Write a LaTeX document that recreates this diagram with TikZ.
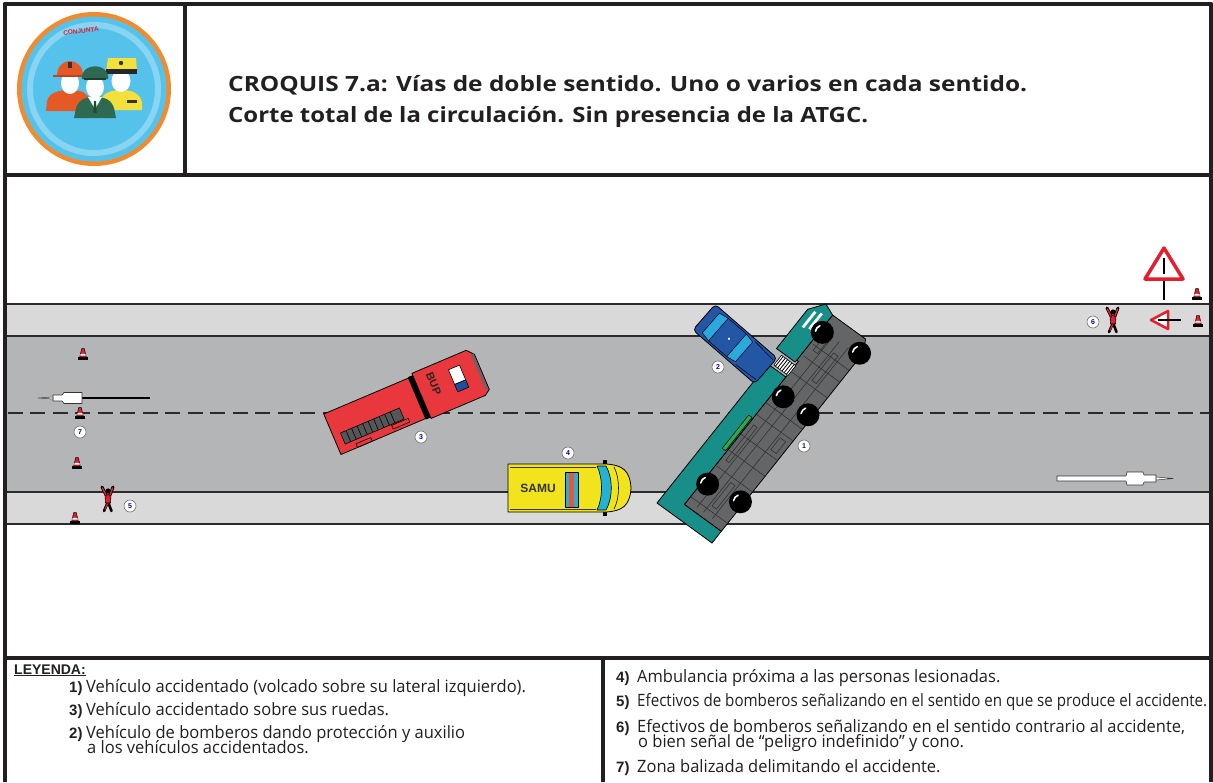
\documentclass[tikz,border=0pt]{standalone}
\usepackage{fontspec}
\usepackage{graphicx}
\setmainfont{Open Sans}
\newfontfamily\legfont[FakeStretch=0.97]{Open Sans}
\newfontfamily\armfont{Liberation Sans}
\usetikzlibrary{calc}

\definecolor{ink}{HTML}{231F20}
\definecolor{shoulder}{HTML}{D9D9D9}
\definecolor{lane}{HTML}{B3B5B7}
\definecolor{roadline}{HTML}{2B2B2B}
\definecolor{truckteal}{HTML}{178E87}
\definecolor{undergrey}{HTML}{636567}
\definecolor{firered}{HTML}{E8383D}
\definecolor{bupblue}{HTML}{1F4E9E}
\definecolor{carblue}{HTML}{2456A6}
\definecolor{carcyan}{HTML}{2AA9DE}
\definecolor{samuyellow}{HTML}{F2E41C}
\definecolor{samucyan}{HTML}{22B1D7}
\definecolor{samured}{HTML}{E8553A}
\definecolor{conered}{HTML}{E31E2D}
\definecolor{greenbar}{HTML}{2FA84F}
\definecolor{logoorange}{HTML}{F28A2E}
\definecolor{logoblue}{HTML}{55C2EC}
\definecolor{fireorange}{HTML}{E55A24}
\definecolor{militgreen}{HTML}{2E6A52}
\definecolor{guardyellow}{HTML}{F3E03A}

% scale a line of text horizontally to a given width (in pt)
\newcommand\fitline[2]{\setbox0=\hbox{#2}\pgfmathsetmacro\fitratio{#1/\the\wd0}\scalebox{\fitratio}[1]{\box0}}
% quadrilateral from two corners, following the current (possibly skewed) axes
\newcommand\quadbox[4]{(#1,#2) -- (#3,#2) -- (#3,#4) -- (#1,#4) -- cycle}

\tikzset{
  cone/.pic={
    \filldraw[fill=black, draw=black] (-4.5,3) rectangle (4.5,5.5);
    \filldraw[fill=conered, draw=black, line width=0.5pt] (-3.2,3) -- (-1.3,-5.5) -- (1.3,-5.5) -- (3.2,3) -- cycle;
    \fill[white] (-2.4,-0.2) -- (2.4,-0.2) -- (2.8,1.6) -- (-2.8,1.6) -- cycle;
  },
  bombero/.pic={
    \draw[black, line width=2.6pt, line cap=round] (0,3) -- (-4,12);
    \draw[black, line width=2.6pt, line cap=round] (0,3) -- (3.5,12);
    \draw[conered, line width=1.2pt] (0,4) -- (-3.2,10.5);
    \filldraw[fill=conered, draw=black, line width=0.6pt] (-3,-5) -- (3,-5) -- (2.5,4) -- (-2.5,4) -- cycle;
    \draw[black, line width=3pt, line cap=round] (-2,-4) -- (-6,-12);
    \draw[black, line width=3pt, line cap=round] (2,-4) -- (5,-12);
    \draw[conered, line width=1.5pt, line cap=round] (-2,-4) -- (-5.6,-11);
    \draw[conered, line width=1.5pt, line cap=round] (2,-4) -- (4.6,-11);
    \fill[black] (0,-8) circle (2.6);
  },
  numtag/.style={circle, draw=black!55, fill=white, line width=0.6pt, inner sep=0pt,
    minimum size=12pt, font=\armfont\bfseries\fontsize{7}{7}\selectfont, text=blue!65!black},
  legtext/.style={anchor=base west, inner sep=0pt, font=\legfont\fontsize{17}{19}\selectfont, text=ink},
  legnum/.style={anchor=base west, inner sep=0pt, font=\armfont\bfseries\fontsize{15}{17}\selectfont, text=ink},
  titletext/.style={anchor=base west, inner sep=0pt, font=\bfseries\fontsize{21}{24}\selectfont, text=ink},
  wheel/.style={fill=black},
  frame/.style={line width=4pt, draw=ink},
  detail/.style={draw=black!80, line width=0.6pt},
}

\begin{document}
\begin{tikzpicture}[x=1pt, y=-1pt, line join=round]
\useasboundingbox (0,0) rectangle (1213,782);
\fill[white] (0,0) rectangle (1213,782);

% ---------------- road ----------------
\fill[shoulder] (5,304) rectangle (1211,524);
\fill[lane] (5,336) rectangle (1211,492);
\foreach \y in {304,336,492,524}
  \draw[roadline, line width=1.8pt] (5,\y) -- (1211,\y);
\draw[roadline, line width=2pt, dash pattern=on 15pt off 7.5pt] (7.5,413) -- (1211,413);

% direction arrows
\draw[black, line width=2pt] (150,398) -- (82,398);
\filldraw[fill=white, draw=black!80, line width=0.6pt]
  (82,392.5) -- (82,403.5) -- (64,403.5) -- (62,401) -- (53,401) -- (53,395) -- (62,395) -- (64,392.5) -- cycle;
\filldraw[fill=white, draw=black!80, line width=0.5pt] (53,397) -- (38,398) -- (53,399) -- cycle;

\filldraw[fill=white, draw=black!80, line width=0.6pt]
  (1057,476) -- (1126,476) -- (1127,472) -- (1143,472) -- (1144,475) -- (1156,475) -- (1156,482)
  -- (1144,482) -- (1143,485) -- (1127,485) -- (1126,481) -- (1057,481) -- cycle;
\filldraw[fill=white, draw=black!80, line width=0.5pt] (1156,477) -- (1173,478.5) -- (1156,480) -- cycle;

% ---------------- fire engine (3) ----------------
\begin{scope}[shift={(406,403)}, rotate=23]
  \filldraw[fill=firered, draw=black, line width=0.8pt] (-80,-22) rectangle (12,22);
  \filldraw[fill=undergrey!85!black, draw=black, line width=0.6pt] (-72,2) rectangle (-8,14);
  \foreach \x in {-66,-60,...,-14} \draw[black, line width=0.6pt] (\x,2) -- (\x,14);
  \draw[black, line width=0.6pt] (-62,22) rectangle (-46,18) (-22,15) rectangle (-4,19);
  \fill[black] (12,-23) rectangle (17,23);
  \filldraw[fill=firered, draw=black, line width=0.8pt]
    (17,-25) -- (76,-25) -- (82,-18) -- (82,20) -- (76,24) -- (17,24) -- cycle;
  \draw[undergrey, line width=2.5pt] (80,-19) -- (80,19);
  \filldraw[fill=white, draw=black, line width=0.6pt] (52,-14) rectangle (64,2);
  \filldraw[fill=bupblue, draw=black, line width=0.6pt] (52,2) rectangle (64,10);
  \node[transform shape, rotate=-90, font=\armfont\bfseries\fontsize{11}{11}\selectfont, text=black!85, inner sep=0pt] (bup) at (33,-7) {BUP};
\end{scope}

% ---------------- ambulance (4) ----------------
\fill[black] (603,460) rectangle (607,464);
\fill[black] (603,512) rectangle (607,516);
\filldraw[fill=samuyellow, draw=black, line width=0.8pt]
  (508,464) -- (606,464) .. controls (622,465) and (630,470) .. (631,488)
  .. controls (630,506) and (622,511) .. (606,512) -- (508,512) -- cycle;
\draw[black!80, line width=0.5pt] (510,467) -- (596,467) (510,509) -- (596,509);
\filldraw[fill=samucyan, draw=black, line width=0.6pt]
  (597,466) .. controls (603,478) and (603,498) .. (597,510) -- (606,510)
  .. controls (613,498) and (613,478) .. (606,466) -- cycle;
\draw[black, line width=0.6pt] (614,467) .. controls (620,478) and (620,498) .. (614,509);
\filldraw[fill=samucyan, draw=black, line width=0.6pt] (565,472) rectangle (578,507);
\fill[samured] (569,472.5) rectangle (574,506.5);
\node[font=\armfont\bfseries\fontsize{12}{12}\selectfont, text=black!80, inner sep=0pt] (samu) at (538,488) {SAMU};

% ---------------- overturned lorry (1) ----------------
% axes: u across the lorry (roof side 0 -> underside 1), v along it (rear 0 -> cab 1)
\begin{scope}[shift={(657,503)}, x={(55pt,-40pt)}, y={(156pt,196pt)}]
  \filldraw[fill=truckteal, draw=black, line width=0.8pt]
    (0,0) -- (1,0) -- (1,0.06) -- (0.33,0.06) -- (0.33,0.71) -- (0,0.71) -- cycle;
  \filldraw[fill=undergrey, draw=black, line width=0.8pt]
    (0.33,0.06) -- (1,0.06) -- (1,0.97) -- (0.9,1.02) -- (0.3,1.02) -- (0.3,0.79) -- (0.33,0.79) -- cycle;
  \filldraw[fill=truckteal, draw=black, line width=0.8pt]
    (-0.04,0.78) -- (0.3,0.78) -- (0.3,1.02) -- (0.12,1.04) -- (-0.04,0.98) -- cycle;
  \filldraw[fill=white, draw=black, line width=0.6pt] \quadbox{0.08}{0.72}{0.34}{0.77};
  \foreach \u in {0.11,0.15,...,0.33} \draw[black, line width=0.8pt] (\u,0.72) -- (\u,0.77);
  % chassis detail
  \foreach \u in {0.5,0.62,0.78} \draw[detail] (\u,0.08) -- (\u,0.95);
  \foreach \v in {0.1,0.26,0.34,0.42,0.52,0.58,0.74,0.82,0.88} \draw[detail] (0.34,\v) -- (1,\v);
  \draw[detail] \quadbox{0.4}{0.3}{0.46}{0.48};
  \draw[detail] \quadbox{0.66}{0.76}{0.74}{0.9};
  \draw[detail] \quadbox{0.82}{0.44}{0.92}{0.5};
  \draw[detail] \quadbox{0.4}{0.86}{0.48}{0.92};
  \draw[detail] \quadbox{0.66}{0.12}{0.74}{0.24};
  \filldraw[fill=greenbar, draw=black, line width=0.5pt] \quadbox{0.25}{0.33}{0.31}{0.5};
  \fill[white] \quadbox{0.05}{0.91}{0.09}{0.99};
  \fill[white] \quadbox{0.14}{0.92}{0.18}{1.0};
  \foreach \u/\v in {0.41/0.18, 0.95/0.2, 0.48/0.64, 0.93/0.64, 0.34/0.94, 0.96/0.96} {
    \fill[wheel] (\u,\v) circle (11.5pt);
    \draw[white, line width=1.6pt, line cap=round] (\u,\v) ++(110:7pt) arc (110:170:7pt);
  }
\end{scope}

% ---------------- car (2) ----------------
\begin{scope}[shift={(735,344)}, rotate=-41]
  \filldraw[fill=carblue, draw=black, line width=0.8pt, rounded corners=4pt] (-41,-17) rectangle (41,17);
  \filldraw[fill=carcyan, draw=black, line width=0.5pt] (-32,-13) -- (-22,-15) -- (-22,15) -- (-32,13) -- cycle;
  \filldraw[fill=carcyan, draw=black, line width=0.5pt] (2,-15) -- (12,-13) -- (12,13) -- (2,15) -- cycle;
  \draw[black, line width=0.5pt] (-22,-15) -- (2,-15) (-22,15) -- (2,15) (14,-15) -- (39,-13) (14,15) -- (39,13);
  \fill[white] (-8,0) circle (1.2pt);
\end{scope}

% ---------------- cones ----------------
\pic (cn1) at (83,354) {cone};
\pic (cn2) at (80,413) {cone};
\pic (cn3) at (77,463) {cone};
\pic (cn4) at (75,518) {cone};
\pic (cn5) at (1197,294) {cone};
\pic (cn6) at (1198,321) {cone};

% ---------------- firefighters ----------------
\pic (bm1) at (108,499) {bombero};
\pic (bm2) at (1113,320) {bombero};

% ---------------- warning triangles ----------------
\draw[black, line width=2.5pt] (1164,258) -- (1164,300);
\filldraw[fill=white, draw=conered, line width=3.5pt] (1164,248) -- (1183,279) -- (1145,279) -- cycle;
\draw[black, line width=2.5pt] (1164,258) -- (1164,274);
\filldraw[fill=white, draw=conered, line width=2.5pt] (1151,320) -- (1168,311) -- (1168,329) -- cycle;
\draw[black, line width=2pt] (1158,320) -- (1181,320);

% ---------------- number tags ----------------
\node[numtag] (m1) at (804,446) {1};
\node[numtag] (m2) at (718,367) {2};
\node[numtag] (m3) at (421,437) {3};
\node[numtag] (m4) at (568,453) {4};
\node[numtag] (m5) at (130,506) {5};
\node[numtag] (m6) at (1093,322) {6};
\node[numtag] (m7) at (80,432) {7};

% ---------------- logo ----------------
\fill[logoorange] (94,89) circle (77);
\fill[logoblue] (94,89) circle (72.5);
\draw[white, opacity=0.3, line width=6pt] (94,89) circle (64);
% fire-fighter
\fill[fireorange] (46,111) -- (47,101) .. controls (49,93) and (58,90) .. (70,90) .. controls (82,90) and (88,93) .. (90,101) -- (90,111) -- cycle;
\fill[white] (70,83) ellipse [x radius=9, y radius=11];
\fill[fireorange] (57,76) .. controls (57,56) and (83,56) .. (83,76) -- cycle;
\draw[fireorange!80!black, line width=2pt] (53,76) -- (87,76);
\fill[black!80] (68,62) rectangle (72,68);
% guard
\fill[guardyellow] (100,110) -- (101,100) .. controls (104,92) and (112,90) .. (122,90) .. controls (133,90) and (140,94) .. (142,102) -- (142,110) -- cycle;
\fill[black!80] (127,100) rectangle (137,103);
\fill[white] (121,81) ellipse [x radius=9.5, y radius=11];
\fill[guardyellow] (106,71) -- (108,58) -- (136,58) -- (137,71) -- cycle;
\fill[black!85] (106,69) rectangle (137,74);
\fill[black!80] (121,63) circle (2.2);
% soldier
\fill[militgreen] (74,118) -- (76,108) .. controls (79,99) and (86,97) .. (95,97) .. controls (104,97) and (111,99) .. (114,108) -- (116,118) -- cycle;
\fill[white] (88,97) -- (95,109) -- (102,97) -- cycle;
\fill[militgreen!70!black] (94,101) -- (96,101) -- (96.8,113) -- (93.2,113) -- cycle;
\fill[white] (95,87) ellipse [x radius=9, y radius=11];
\fill[militgreen] (82,79) .. controls (80,62) and (110,62) .. (108,79) -- cycle;
\draw[militgreen!60!black, line width=2pt] (84,79) -- (106,79);
\node[font=\armfont\bfseries\fontsize{6.5}{6.5}\selectfont, text=conered, rotate=6, inner sep=0pt] (logotxt) at (81,31) {CONJUNTA};

% ---------------- frame ----------------
\draw[frame] (4.7,782) -- (4.7,3.5) -- (1211.3,3.5) -- (1211.3,782);
\draw[frame] (4.7,174.5) -- (1211.3,174.5);
\draw[frame] (185,3.5) -- (185,174.5);
\draw[frame] (4.7,658) -- (1211.3,658);
\draw[frame] (603,658) -- (603,782);

% ---------------- title ----------------
\node[titletext] (title1) at (228,91) {\fitline{799}{CROQUIS 7.a: Vías de doble sentido. Uno o varios en cada sentido.}};
\node[titletext] (title2) at (228,122) {\fitline{640}{Corte total de la circulación. Sin presencia de la ATGC.}};

% ---------------- legend ----------------
\node[anchor=base west, inner sep=0pt, font=\armfont\bfseries\fontsize{14}{16}\selectfont, text=ink] (ley) at (14,674) {\underline{LEYENDA:}};
\node[legnum] (n1) at (69,692) {1)};
\node[legtext] (l1) at (86,692) {Vehículo accidentado (volcado sobre su lateral izquierdo).};
\node[legnum] (n3) at (69,715) {3)};
\node[legtext] (l3) at (86,715) {Vehículo accidentado sobre sus ruedas.};
\node[legnum] (n2) at (69,738) {2)};
\node[legtext] (l2) at (86,738) {Vehículo de bomberos dando protección y auxilio};
\node[legtext] (l2b) at (87,753) {a los vehículos accidentados.};

\node[legnum] (n4) at (616,682) {4)};
\node[legtext] (l4) at (637,682) {Ambulancia próxima a las personas lesionadas.};
\node[legnum] (n5) at (616,706) {5)};
\node[legtext] (l5) at (637,706) {\fitline{570}{Efectivos de bomberos señalizando en el sentido en que se produce el accidente.}};
\node[legnum] (n6) at (616,732) {6)};
\node[legtext] (l6) at (637,732) {Efectivos de bomberos señalizando en el sentido contrario al accidente,};
\node[legtext] (l6b) at (638,747) {o bien señal de “peligro indefinido” y cono.};
\node[legnum] (n7) at (616,772) {7)};
\node[legtext] (l7) at (637,772) {Zona balizada delimitando el accidente.};
\end{tikzpicture}
\end{document}
